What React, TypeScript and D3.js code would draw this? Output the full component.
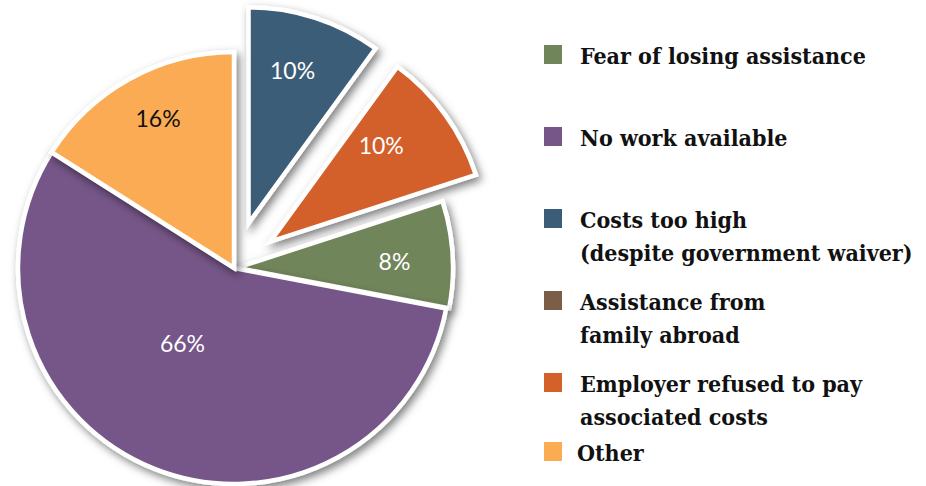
import React from "react";
import * as d3 from "d3";

// Legend order
const categories = [
  "Fear of losing assistance",
  "No work available",
  "Costs too high (despite government waiver)",
  "Assistance from family abroad",
  "Employer refused to pay associated costs",
  "Other",
];
const legendLines = [
  ["Fear of losing assistance"],
  ["No work available"],
  ["Costs too high", "(despite government waiver)"],
  ["Assistance from", "family abroad"],
  ["Employer refused to pay", "associated costs"],
  ["Other"],
];
// slice sizes as drawn (percent of the circle)
const shares = [8, 56, 10, 0, 10, 16];
// printed slice labels
const sliceLabels = ["8%", "66%", "10%", "", "10%", "16%"];
const colors = ["#71855a", "#765688", "#3b5d78", "#7a5e48", "#d3612a", "#fbab52"];
// clockwise order of the slices from 12 o'clock
const pieOrder = [2, 4, 0, 3, 1, 5];

const W = 926;
const H = 486;
const cx = 234;
const cy = 268;
const R = 216;
const explode = [3, 0, 47, 0, 45, 0];
const labelDark = [false, false, false, false, false, true];
const labelRadius = [0.73, 0.42, 0.74, 0.7, 0.68, 0.78];
const labelAngleShift = [1, 13, -2, 0, -5, 2];
const legendTop = [45, 127, 209, 291, 373, 442];

export default function App() {
  const ordered = pieOrder.map((i) => ({ i, v: shares[i] }));
  const arcs = d3
    .pie<{ i: number; v: number }>()
    .sort(null)
    .value((d) => d.v)
    .startAngle(0)
    .endAngle(2 * Math.PI)(ordered);
  const arcGen = d3
    .arc<d3.PieArcDatum<{ i: number; v: number }>>()
    .innerRadius(0)
    .outerRadius(R);

  return (
    <svg
      width={W}
      height={H}
      style={{ position: "absolute", left: 0, top: 0, background: "#fff" }}
    >
      <defs>
        <filter id="sh" x="-30%" y="-30%" width="160%" height="160%">
          <feDropShadow dx="3" dy="4" stdDeviation="4.5" floodColor="#000" floodOpacity="0.5" />
        </filter>
      </defs>
      <g transform={`translate(${cx},${cy})`}>
        {arcs
          .filter((a) => a.data.v > 0)
          .map((a) => {
            const mid = (a.startAngle + a.endAngle) / 2;
            const e = explode[a.data.i];
            const ox = Math.sin(mid) * e;
            const oy = -Math.cos(mid) * e;
            return (
              <g key={a.data.i} transform={`translate(${ox},${oy})`} filter="url(#sh)">
                <path
                  d={arcGen(a) || ""}
                  fill={colors[a.data.i]}
                  stroke="#fff"
                  strokeWidth={4.5}
                  strokeLinejoin="miter"
                />
              </g>
            );
          })}
        {arcs
          .filter((a) => a.data.v > 0)
          .map((a) => {
            const mid = (a.startAngle + a.endAngle) / 2;
            const e = explode[a.data.i];
            const ang = mid + (labelAngleShift[a.data.i] * Math.PI) / 180;
            const lr = R * labelRadius[a.data.i];
            const x = Math.sin(mid) * e + Math.sin(ang) * lr;
            const y = -Math.cos(mid) * e - Math.cos(ang) * lr;
            return (
              <text
                key={"l" + a.data.i}
                x={x}
                y={y}
                textAnchor="middle"
                dominantBaseline="central"
                fontFamily="Lato, 'Open Sans', sans-serif"
                fontSize={23}
                fill={labelDark[a.data.i] ? "#111" : "#fff"}
              >
                {sliceLabels[a.data.i]}
              </text>
            );
          })}
      </g>
      <g>
        {categories.map((c, i) => (
          <g key={c}>
            <rect x={544} y={legendTop[i]} width={18} height={19} fill={colors[i]} />
            {legendLines[i].map((line, j) => (
              <text
                key={j}
                x={i === 5 ? 577 : 580}
                y={legendTop[i] + 19 + j * 33}
                fontFamily="'DejaVu Serif Condensed', 'DejaVu Serif', serif"
                fontStretch="condensed"
                fontWeight="bold"
                fontSize={23}
                fill="#111"
              >
                {line}
              </text>
            ))}
          </g>
        ))}
      </g>
    </svg>
  );
}
